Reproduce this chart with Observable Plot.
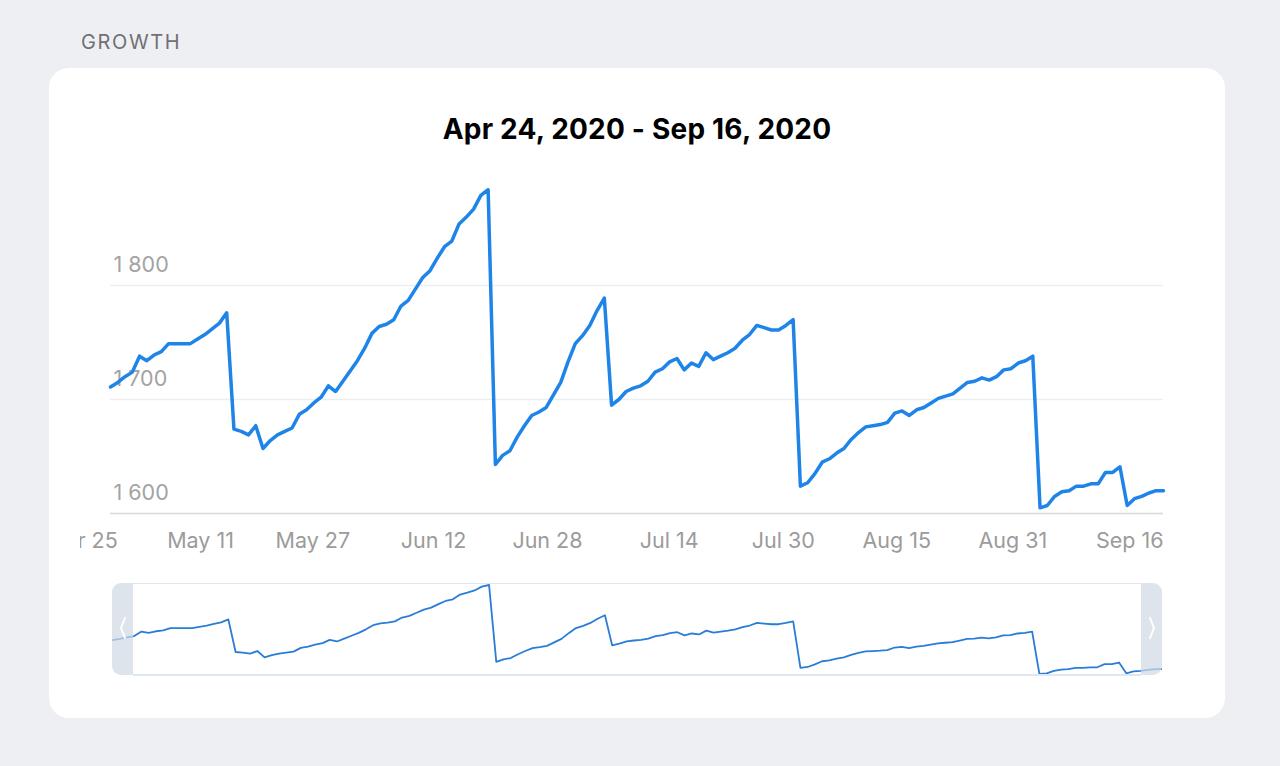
<!DOCTYPE html>
<html>
<head>
<meta charset="utf-8">
<script src="https://cdn.jsdelivr.net/npm/d3@7"></script>
<script src="https://cdn.jsdelivr.net/npm/@observablehq/plot@0.6"></script>
<style>
  html, body { margin: 0; padding: 0; }
  body { background: #eeeff3; width: 1280px; height: 766px; position: relative; overflow: hidden;
         font-family: Inter, "Noto Sans", Roboto, sans-serif; }
  #label { position: absolute; left: 81px; top: 30px; font-size: 20px; line-height: 24px; color: #707075; letter-spacing: 1.6px; }
  #card { position: absolute; left: 49px; top: 68px; width: 1176px; height: 650px; background: #fff; border-radius: 20px; }
  #title { position: absolute; left: 0; width: 1274px; top: 112px; text-align: center; font-weight: 700;
           font-size: 28px; line-height: 34px; color: #000; letter-spacing: 0.2px; }
  #main { position: absolute; left: 80px; top: 150px; width: 1100px; height: 420px; overflow: hidden; }
  #mini { position: absolute; left: 112px; top: 583px; width: 1050px; height: 92px; overflow: hidden; }
  .handle { position: absolute; top: 583px; width: 21px; height: 92px; background: rgba(208,217,229,0.72); }
  #hl { left: 112px; border-radius: 9px 0 0 9px; }
  #hr { left: 1141px; border-radius: 0 9px 9px 0; }
  .border { position: absolute; left: 133px; width: 1008px; height: 1.5px; background: #e1e7ee; }
  #bt { top: 582.5px; }
  #bb { top: 674px; }
  .chev { position: absolute; top: 616px; width: 10px; height: 24px; }
  #cl { left: 117.5px; }
  #cr { left: 1146.5px; }
</style>
</head>
<body>
<div id="label"></div>
<div id="card"></div>
<div id="title"></div>
<div id="main"></div>
<div id="mini"></div>
<div class="handle" id="hl"></div>
<div class="handle" id="hr"></div>
<div class="border" id="bt"></div>
<div class="border" id="bb"></div>
<svg class="chev" id="cl" viewBox="0 0 10 24"><polyline points="7,2 3,12 7,22" fill="none" stroke="#fff" stroke-width="2" stroke-linecap="round" stroke-linejoin="round"/></svg>
<svg class="chev" id="cr" viewBox="0 0 10 24"><polyline points="3,2 7,12 3,22" fill="none" stroke="#fff" stroke-width="2" stroke-linecap="round" stroke-linejoin="round"/></svg>
<script>
const sectionLabel = "GROWTH";
const titleText = "Apr 24, 2020 - Sep 16, 2020";
const startDate = "2020-04-24";
const values = [
  1711, 1715, 1720, 1724, 1738, 1734, 1739, 1742, 1749, 1749, 1749, 1749, 1753, 1757, 1762, 1767, 1776,
  1674, 1672, 1669, 1677, 1657, 1664, 1669, 1672, 1675, 1687, 1691, 1697, 1702, 1712, 1707, 1716, 1725,
  1734, 1745, 1758, 1764, 1766, 1770, 1782, 1787, 1797, 1807, 1813, 1824, 1834, 1839, 1854, 1860, 1867, 1879, 1884,
  1643, 1651, 1655, 1667, 1677, 1686, 1689, 1693, 1704, 1715, 1733, 1749, 1756, 1765, 1778, 1789,
  1695, 1700, 1707, 1710, 1712, 1716, 1724, 1727, 1733, 1736, 1726, 1732, 1729, 1741, 1735, 1738, 1741,
  1745, 1752, 1757, 1765, 1763, 1761, 1761, 1765, 1770,
  1624, 1627, 1635, 1645, 1648, 1653, 1657, 1665, 1671, 1676, 1677, 1678, 1680, 1688, 1690, 1686, 1691,
  1693, 1697, 1701, 1703, 1705, 1710, 1715, 1716, 1719, 1717, 1720, 1726, 1727, 1732, 1734, 1738,
  1605, 1607, 1615, 1619, 1620, 1624, 1624, 1626, 1626, 1636, 1636, 1641,
  1607, 1613, 1615, 1618, 1620, 1620
];
const xTickDates = ["2020-04-25", "2020-05-11", "2020-05-27", "2020-06-12", "2020-06-28",
                    "2020-07-14", "2020-07-30", "2020-08-15", "2020-08-31", "2020-09-16"];
const yTicks = [1600, 1700, 1800];

document.getElementById("label").textContent = sectionLabel;
document.getElementById("title").textContent = titleText;

const t0 = new Date(startDate + "T00:00:00Z");
const data = values.map((v, i) => ({date: d3.utcDay.offset(t0, i), value: v}));
const xTicks = xTickDates.map(s => new Date(s + "T00:00:00Z"));
const fmtY = d => d3.format(",")(d).replace(",", " ");
const fmtX = d3.utcFormat("%b %-d");
const lineColor = "#1f84e8";

const main = Plot.plot({
  width: 1100, height: 420,
  marginLeft: 30, marginRight: 17, marginTop: 21, marginBottom: 57,
  style: {background: "transparent", fontFamily: "Inter, 'Noto Sans', sans-serif", overflow: "visible"},
  x: {type: "utc", domain: [data[0].date, data[data.length - 1].date], axis: null},
  y: {domain: [1600, 1900], axis: null},
  marks: [
    Plot.ruleY(yTicks.filter(d => d !== 1600), {stroke: "#eceef0", strokeWidth: 1.3}),
    Plot.ruleY([1600], {stroke: "#d8d8d8", strokeWidth: 1.6}),
    Plot.text(yTicks, {y: d => d, frameAnchor: "left", textAnchor: "start", dx: 3, dy: -20,
                       text: fmtY, fill: "#a3a3a3", fontSize: 21.5}),
    Plot.text(xTicks, {x: d => d, frameAnchor: "bottom", textAnchor: "end", lineAnchor: "top", dy: 19,
                       text: fmtX, fill: "#9b9b9b", fontSize: 21.5}),
    Plot.line(data, {x: "date", y: "value", stroke: lineColor, strokeWidth: 3.5,
                     strokeLinejoin: "round", strokeLinecap: "round"})
  ]
});
document.getElementById("main").appendChild(main);

const mini = Plot.plot({
  width: 1050, height: 92,
  marginLeft: 0, marginRight: 0, marginTop: 1.5, marginBottom: 1.5,
  style: {background: "transparent"},
  x: {type: "utc", axis: null},
  y: {domain: d3.extent(values), axis: null},
  marks: [
    Plot.line(data, {x: "date", y: "value", stroke: "#2a7dd6", strokeWidth: 1.8, strokeLinejoin: "round"})
  ]
});
document.getElementById("mini").appendChild(mini);
</script>
</body>
</html>
